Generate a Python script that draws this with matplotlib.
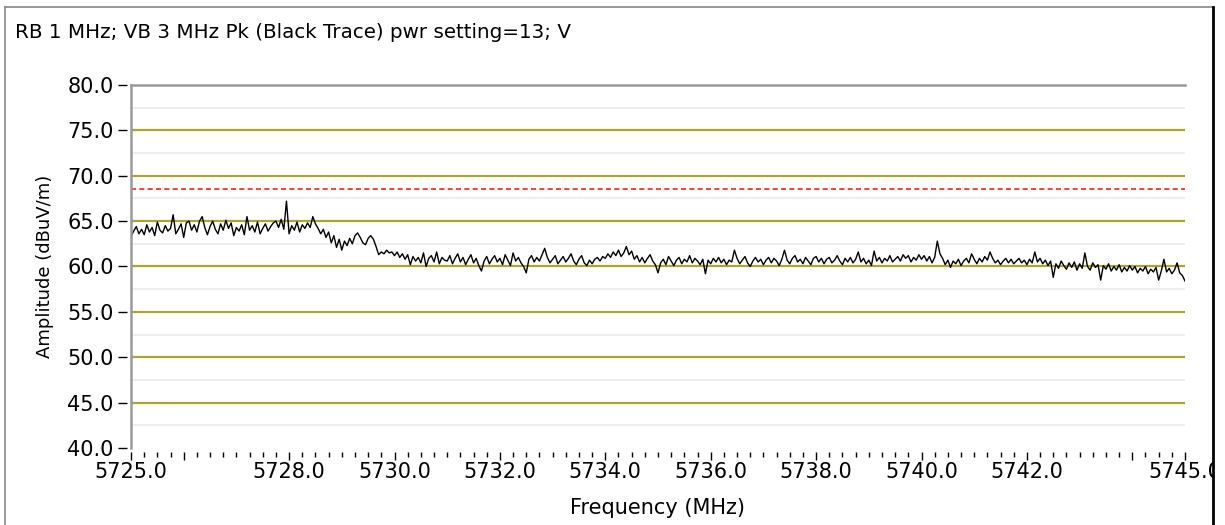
import numpy as np
import matplotlib
matplotlib.use("Agg")
import matplotlib.pyplot as plt
from matplotlib.lines import Line2D
from matplotlib.patches import Rectangle
from matplotlib.ticker import FixedLocator, MultipleLocator, FuncFormatter

# ---- data ----
f_start = 5725.0
f_step = 0.05
# peak trace, one row per MHz (20 points each), last value = 5745.0
amp_rows = [
    [63.3, 63.9, 64.4, 63.6, 64.1, 63.5, 64.6, 63.8, 64.3, 63.4, 64.9, 64.0, 63.7, 64.5, 63.9, 64.2, 65.7, 63.6, 64.1, 64.7],
    [63.2, 64.8, 65.0, 64.0, 64.6, 63.8, 65.0, 65.5, 64.3, 63.5, 64.4, 65.0, 64.1, 63.6, 64.7, 64.0, 65.1, 64.2, 64.8, 63.4],
    [64.3, 63.9, 64.6, 63.5, 65.5, 64.0, 64.5, 63.8, 64.9, 63.6, 64.2, 64.7, 63.9, 64.4, 64.8, 65.0, 64.3, 65.2, 64.1, 67.2],
    [63.6, 64.5, 64.0, 64.9, 63.8, 64.6, 64.2, 64.8, 64.3, 65.5, 64.7, 64.2, 63.6, 64.1, 63.2, 63.8, 62.6, 63.4, 62.1, 63.0],
    [61.8, 62.8, 62.3, 63.1, 62.5, 63.4, 63.7, 63.2, 62.6, 62.4, 63.1, 63.4, 63.0, 62.2, 61.3, 61.6, 61.4, 61.8, 61.5, 61.6],
    [61.2, 61.6, 61.0, 61.4, 60.8, 61.3, 60.2, 61.1, 60.6, 61.0, 60.4, 61.5, 60.0, 60.9, 61.2, 60.5, 61.6, 60.3, 61.0, 60.7],
    [60.6, 61.2, 60.3, 60.9, 61.4, 60.5, 61.0, 60.2, 60.8, 61.3, 60.4, 60.9, 60.1, 59.5, 60.6, 61.1, 60.3, 60.8, 61.2, 60.5],
    [60.9, 60.2, 61.3, 60.7, 60.1, 61.5, 60.6, 61.0, 60.4, 60.0, 59.3, 60.8, 61.2, 60.5, 61.0, 60.6, 61.3, 62.0, 61.0, 60.4],
    [60.8, 61.2, 60.3, 60.7, 61.1, 60.5, 60.9, 61.4, 60.6, 60.2, 60.8, 61.2, 60.4, 60.1, 60.7, 60.3, 60.8, 61.0, 60.6, 61.1],
    [60.9, 61.4, 61.0, 61.6, 61.2, 61.8, 61.1, 61.5, 62.2, 61.3, 61.7, 60.8, 61.2, 60.5, 61.0, 60.4, 60.9, 61.3, 60.6, 60.2],
    [59.3, 60.4, 60.8, 60.2, 61.1, 60.6, 60.1, 60.7, 61.0, 60.3, 60.8, 60.5, 61.2, 60.4, 60.9, 60.6, 60.2, 60.8, 59.2, 60.7],
    [60.3, 60.9, 60.5, 61.0, 60.4, 60.8, 60.2, 60.7, 60.5, 61.8, 60.9, 60.3, 60.7, 61.1, 60.4, 60.0, 60.6, 61.0, 60.5, 60.8],
    [60.2, 60.7, 61.0, 60.4, 60.9, 60.6, 60.1, 60.8, 61.8, 60.7, 60.3, 60.9, 61.2, 60.5, 60.8, 60.3, 61.0, 60.6, 60.2, 60.9],
    [61.1, 60.5, 60.9, 60.3, 60.8, 61.0, 60.4, 60.7, 61.2, 60.6, 60.2, 60.9, 60.5, 61.0, 60.4, 60.8, 61.6, 60.5, 60.9, 60.3],
    [60.7, 60.1, 61.7, 60.6, 61.0, 60.4, 60.9, 60.6, 61.2, 60.5, 60.8, 61.1, 60.6, 61.3, 60.9, 61.2, 60.5, 61.0, 60.7, 61.3],
    [60.8, 61.2, 60.6, 61.1, 60.4, 61.0, 62.8, 61.4, 60.9, 60.2, 60.7, 59.9, 60.6, 60.3, 60.8, 60.1, 60.6, 60.9, 60.4, 61.4],
    [60.8, 60.3, 60.9, 60.5, 61.1, 60.7, 61.6, 60.9, 60.4, 60.7, 60.2, 60.6, 60.9, 60.4, 60.8, 60.3, 60.6, 60.9, 60.4, 60.7],
    [60.2, 60.8, 60.4, 61.6, 60.5, 60.9, 60.3, 60.7, 60.1, 60.6, 58.8, 60.3, 59.8, 60.6, 60.1, 59.7, 60.4, 59.9, 60.5, 59.6],
    [60.3, 59.8, 61.5, 60.0, 59.6, 60.4, 59.9, 60.2, 58.5, 60.1, 59.7, 60.3, 59.5, 60.0, 59.6, 60.2, 59.4, 59.9, 59.5, 60.1],
    [59.6, 60.0, 59.3, 59.8, 59.5, 60.0, 59.2, 59.7, 59.4, 59.9, 58.5, 59.5, 60.8, 59.4, 59.8, 59.2, 59.6, 60.4, 59.3, 59.0],
]
amp_last = 58.4
limit_line = 68.5

x_labels = {5725: "5725.0", 5726: "", 5728: "5728.0", 5730: "5730.0", 5732: "5732.0",
            5734: "5734.0", 5736: "5736.0", 5738: "5738.0", 5740: "5740.0",
            5742: "5742.0", 5744: "", 5745: "5745.0"}
y_ticks = [40, 45, 50, 55, 60, 65, 70, 75, 80]

amp = np.array([v for row in amp_rows for v in row] + [amp_last])
freq = f_start + f_step * np.arange(len(amp))

# ---- figure ----
plt.rcParams['font.family'] = ['DejaVu Sans']
fig = plt.figure(figsize=(12.25, 5.25), dpi=100)
ax = fig.add_axes([131 / 1225, 1 - 448 / 525, 1054 / 1225, 363 / 525])

grid_col = '#a9a630'
for y in y_ticks[1:-1]:
    ax.axhline(y, color=grid_col, lw=1.6, zorder=1)
for y in np.arange(42.5, 80, 5):
    ax.axhline(y, color='#eeeeee', lw=1.6, zorder=0)

ax.axhline(limit_line, color='#ff2020', lw=1.2, ls=(0, (3, 2)), zorder=2)
ax.plot(freq, amp, color='black', lw=1.0, zorder=3)

ax.set_xlim(5725, 5745)
ax.set_ylim(40, 80)

# frame: grey top and left lines, ticks pushed a little away from the plot
for s in ['right', 'bottom', 'left']:
    ax.spines[s].set_visible(False)
ax.spines['top'].set_color('#999999')
ax.spines['top'].set_linewidth(1.8)
ax.spines['bottom'].set_position(('outward', 3))
ax.spines['left'].set_position(('outward', 3))
ax.axvline(5725, color='#999999', lw=1.8, zorder=4, clip_on=False)

# ticks
ax.xaxis.set_major_locator(FixedLocator(list(x_labels.keys())))
ax.xaxis.set_major_formatter(FuncFormatter(lambda v, p: x_labels.get(int(round(v)), "")))
ax.xaxis.set_minor_locator(MultipleLocator(0.25))
ax.tick_params(axis='x', which='major', length=6, width=1, pad=1, labelsize=15)
ax.tick_params(axis='x', which='minor', length=3.5, width=1)

ax.set_yticks(y_ticks)
ax.set_yticklabels(["%.1f" % v for v in y_ticks])
ax.tick_params(axis='y', which='major', length=6.5, width=1, pad=3, labelsize=15)
ax.yaxis.set_ticks_position('left')
ax.xaxis.set_ticks_position('bottom')

ax.set_xlabel("Frequency (MHz)", fontsize=15, va='center')
ax.xaxis.set_label_coords(0.5, -(508 - 448) / 363)
ax.set_ylabel("Amplitude (dBuV/m)", fontsize=13, va='center')
ax.yaxis.set_label_coords((45 - 131) / 1054, 0.5)

fig.text(15 / 1225, 1 - 33 / 525, "RB 1 MHz; VB 3 MHz Pk (Black Trace) pwr setting=13; V",
         fontsize=14.3, ha='left', va='center')

# outer frame
fig.add_artist(Rectangle((1213 / 1225, 0), 12 / 1225, 1, transform=fig.transFigure,
                         facecolor='white', edgecolor='none', zorder=10))
fig.add_artist(Line2D([5 / 1225, 5 / 1225], [0, 1 - 7 / 525], color='#888888', lw=1.2, zorder=11))
fig.add_artist(Line2D([5 / 1225, 1213 / 1225], [1 - 7 / 525, 1 - 7 / 525], color='#888888', lw=1.2, zorder=11))
fig.add_artist(Line2D([1213 / 1225, 1213 / 1225], [0, 1 - 7 / 525], color='black', lw=2, zorder=11))

fig.savefig("out.png", dpi=100)
